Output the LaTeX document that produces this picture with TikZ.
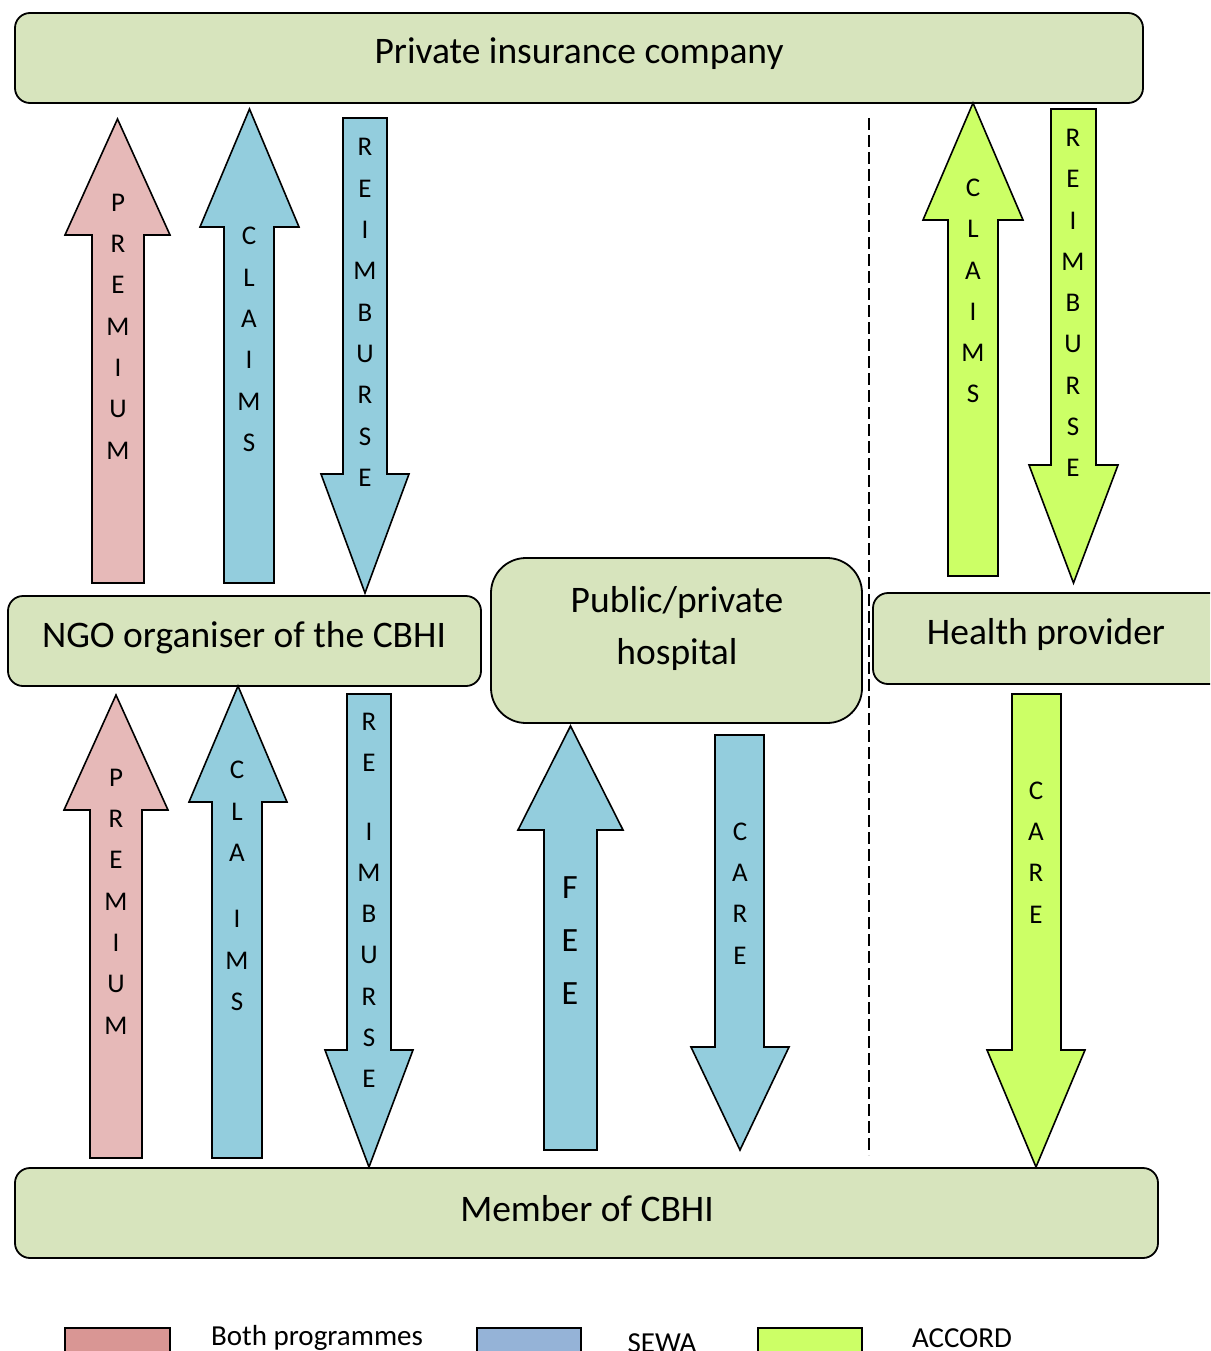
\documentclass[tikz,border=0pt]{standalone}
\usepackage{fontspec}
\setmainfont{Carlito}
\definecolor{boxfill}{HTML}{D7E4BD}
\definecolor{pinkarrow}{HTML}{E6B9B8}
\definecolor{bluearrow}{HTML}{93CDDD}
\definecolor{greenarrow}{HTML}{CCFF66}
\definecolor{pinkkey}{HTML}{D99694}
\definecolor{bluekey}{HTML}{95B3D7}
% block arrow: style, shaft left, shaft right, wing left, wing right, tip y, head base y, tail y
\newcommand{\blockarrow}[8]{%
  \draw[#1] (#2,#8) -- (#2,#7) -- (#4,#7) -- ({(#4+#5)/2},#6) -- (#5,#7)
    -- (#3,#7) -- (#3,#8) -- cycle;}
\begin{document}
\begin{tikzpicture}[x=1pt,y=-1pt,
  party/.style={draw=black,line width=1.8pt,fill=boxfill,rounded corners=15pt},
  pinkar/.style={draw=black,line width=1.6pt,fill=pinkarrow,line join=miter},
  bluear/.style={draw=black,line width=1.6pt,fill=bluearrow,line join=miter},
  greenar/.style={draw=black,line width=1.6pt,fill=greenarrow,line join=miter},
  partytext/.style={font=\fontsize{37.5}{52}\selectfont,align=center,inner sep=0pt},
  letters/.style={font=\fontsize{27}{41.3}\selectfont,align=center,inner sep=0pt},
  keytext/.style={font=\fontsize{29}{32}\selectfont,inner sep=0pt,anchor=base},
  keybox/.style={draw=black,line width=1.8pt}]
\useasboundingbox (0,0) rectangle (1210,1351);
\clip (0,0) rectangle (1210,1351);
\fill[white] (0,0) rectangle (1210,1351);

% parties
\draw[party] (15,13) rectangle (1143,103);
\node[partytext] (insurer) at (579,54) {Private insurance company};
\draw[party] (8,596) rectangle (481,686);
\node[partytext] (ngo) at (244,638) {NGO organiser of the CBHI};
\draw[party,rounded corners=35pt] (491,558) rectangle (862,723);
\node[partytext] (hospital) at (677,628) {Public/private\\hospital};
\draw[party] (873,593) rectangle (1230,684);
\node[partytext] (provider) at (1046,634) {Health provider};
\draw[party] (15,1168) rectangle (1158,1258);
\node[partytext] (member) at (587,1209) {Member of CBHI};

% programme divider
\draw[line width=2.4pt,dash pattern=on 12pt off 5pt] (869,118) -- (869,1155);

% flows between NGO and insurer
\blockarrow{pinkar}{92}{144}{65}{170}{119}{235}{583}
\node[letters] (premtop) at (118,326.5) {P\\R\\E\\M\\I\\U\\M};
\blockarrow{bluear}{224}{274}{200}{299}{109}{227}{583}
\node[letters] (claimtop) at (249,339.5) {C\\L\\A\\I\\M\\S};
\blockarrow{bluear}{343}{387}{321}{409}{593}{474}{118}
\node[letters] (reimtop) at (365,312.5) {R\\E\\I\\M\\B\\U\\R\\S\\E};

% flows between health provider and insurer
\blockarrow{greenar}{948}{998}{923}{1023}{103}{220}{576}
\node[letters] (claimgreen) at (973,291) {C\\L\\A\\I\\M\\S};
\blockarrow{greenar}{1051}{1096}{1029}{1118}{583}{465}{109}
\node[letters] (reimgreen) at (1073,303) {R\\E\\I\\M\\B\\U\\R\\S\\E};

% flows between member and NGO
\blockarrow{pinkar}{90}{142}{64}{168}{695}{810}{1158}
\node[letters] (prembot) at (116,901.5) {P\\R\\E\\M\\I\\U\\M};
\blockarrow{bluear}{212}{262}{189}{287}{686}{802}{1158}
\node[letters] (claimbot) at (237,886) {C\\L\\A\\[25pt]I\\M\\S};
\blockarrow{bluear}{347}{391}{325}{413}{1167}{1050}{694}
\node[letters] (reimbot) at (369,900.5) {R\\E\\[27pt]I\\M\\B\\U\\R\\S\\E};

% flows between member and hospital
\blockarrow{bluear}{544}{597}{518}{623}{726}{830}{1150}
\node[letters,font=\fontsize{34}{53}\selectfont] (fee) at (570,941) {F\\E\\E};
\blockarrow{bluear}{715}{764}{691}{789}{1150}{1047}{735}
\node[letters] (careblue) at (740,893.5) {C\\A\\R\\E};

% care from health provider
\blockarrow{greenar}{1012}{1061}{987}{1085}{1167}{1050}{694}
\node[letters] (caregreen) at (1036,852.5) {C\\A\\R\\E};

% key
\draw[keybox,fill=pinkkey] (65,1328) rectangle (170,1370);
\node[keytext] (keyboth) at (317,1345) {Both programmes};
\draw[keybox,fill=bluekey] (477,1328) rectangle (581,1370);
\node[keytext] (keysewa) at (662,1352) {SEWA};
\draw[keybox,fill=greenarrow] (758,1328) rectangle (862,1370);
\node[keytext] (keyaccord) at (962,1347) {ACCORD};
\end{tikzpicture}
\end{document}
